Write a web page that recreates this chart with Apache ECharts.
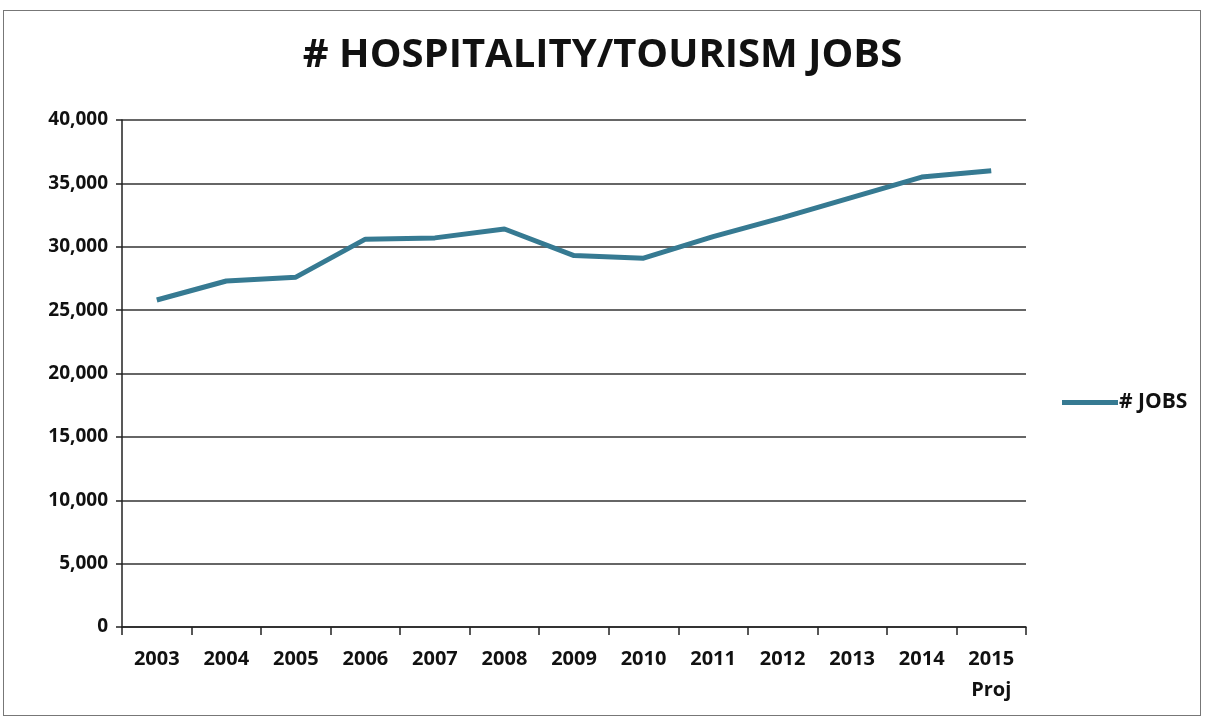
<!DOCTYPE html>
<html>
<head>
<meta charset="utf-8">
<script src="https://cdn.jsdelivr.net/npm/echarts@6/dist/echarts.min.js"></script>
<style>
  html, body { margin: 0; padding: 0; background: #fff; }
  #frame { position: absolute; left: 3px; top: 10px; width: 1198px; height: 706px; border: 1px solid #777; box-sizing: border-box; }
  #chart { position: absolute; left: 0; top: 0; width: 1205px; height: 721px; }
</style>
</head>
<body>
<div id="frame"></div>
<div id="chart"></div>
<script>
// Hospitality / tourism employment by year (2015 is a projection)
const years = ['2003', '2004', '2005', '2006', '2007', '2008', '2009', '2010', '2011', '2012', '2013', '2014', '2015\nProj'];
const jobs = [25800, 27300, 27600, 30600, 30700, 31400, 29300, 29100, 30800, 32300, 33900, 35500, 36000];
const yTicks = { min: 0, max: 40000, step: 5000 };

const FONT = '"Open Sans", "Noto Sans", sans-serif';
const LINE_COLOR = '#367a92';

const chart = echarts.init(document.getElementById('chart'), null, { renderer: 'canvas' });
chart.setOption({
  backgroundColor: 'transparent',
  animation: false,
  title: {
    text: '# HOSPITALITY/TOURISM JOBS',
    left: 'center',
    top: 31,
    textStyle: { fontFamily: FONT, fontWeight: 'bold', fontSize: 40, color: '#111' }
  },
  legend: {
    left: 1057,
    top: 387,
    orient: 'vertical',
    itemWidth: 56,
    itemHeight: 5,
    itemGap: 0,
    icon: 'rect',
    textStyle: { fontFamily: FONT, fontWeight: 'bold', fontSize: 21, color: '#111', padding: [0, 0, 0, -4] },
    data: ['# JOBS']
  },
  grid: { left: 122, right: 179, top: 120, bottom: 94, containLabel: false },
  xAxis: {
    type: 'category',
    data: years,
    boundaryGap: true,
    axisLine: { lineStyle: { color: '#222', width: 1.5 } },
    axisTick: { show: true, length: 8, inside: false, lineStyle: { color: '#222', width: 1.5 } },
    axisLabel: {
      margin: 17,
      interval: 0,
      fontFamily: FONT,
      fontWeight: 'bold',
      fontSize: 20,
      lineHeight: 31,
      color: '#111'
    },
    splitLine: { show: false }
  },
  yAxis: {
    type: 'value',
    min: yTicks.min,
    max: yTicks.max,
    interval: yTicks.step,
    axisLine: { show: true, lineStyle: { color: '#222', width: 1.5 } },
    axisTick: { show: true, length: 6, lineStyle: { color: '#222', width: 1.5 } },
    axisLabel: {
      margin: 14,
      fontFamily: FONT,
      fontWeight: 'bold',
      fontSize: 19,
      color: '#111',
      formatter: v => v.toLocaleString('en-US')
    },
    splitLine: { show: true, lineStyle: { color: '#333', width: 1.5 } }
  },
  series: [{
    name: '# JOBS',
    type: 'line',
    data: jobs,
    symbol: 'none',
    smooth: false,
    lineStyle: { color: LINE_COLOR, width: 5 },
    itemStyle: { color: LINE_COLOR }
  }]
});
</script>
</body>
</html>
